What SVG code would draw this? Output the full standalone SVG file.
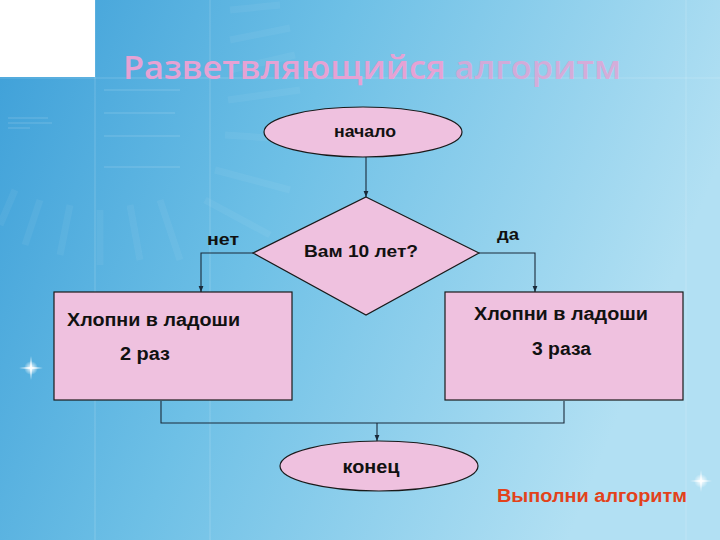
<svg xmlns="http://www.w3.org/2000/svg" width="720" height="540" viewBox="0 0 720 540">
<defs>
<linearGradient id="bg" x1="0" y1="0" x2="1" y2="0.3">
<stop offset="0" stop-color="#3d9fd8"/>
<stop offset="0.45" stop-color="#6ec0e6"/>
<stop offset="1" stop-color="#b2e0f3"/>
</linearGradient>
<radialGradient id="spark" cx="0.5" cy="0.5" r="0.5">
<stop offset="0" stop-color="#ffffff" stop-opacity="1"/>
<stop offset="1" stop-color="#ffffff" stop-opacity="0"/>
</radialGradient>
<marker id="arr" viewBox="0 0 10 10" refX="10" refY="5" markerWidth="6" markerHeight="6" orient="auto" markerUnits="userSpaceOnUse">
<path d="M0,1 L10,5 L0,9 z" fill="#1a2a3a"/>
</marker>
<style>
.shape{fill:#efc1df;stroke:#1a1a1a;stroke-width:1.2}
.lbl{font-family:"Liberation Sans Narrow","Liberation Sans",Arial,sans-serif;font-weight:bold;fill:#111}
.conn{fill:none;stroke:#1a2a3a;stroke-width:1.1}
.deco{stroke:#ffffff;stroke-opacity:0.18;fill:none}
</style>
</defs>
<rect x="0" y="0" width="720" height="540" fill="url(#bg)"/>
<g id="background-deco">
<rect x="0" y="0" width="95" height="77" fill="#ffffff"/>
<line class="deco" x1="95" y1="0" x2="95" y2="540"/>
<line class="deco" x1="210" y1="0" x2="210" y2="540"/>
<line class="deco" x1="0" y1="78" x2="720" y2="78"/>
<line class="deco" x1="686" y1="0" x2="686" y2="540" stroke-opacity="0.25"/>
<g stroke="#ffffff" stroke-opacity="0.05" stroke-width="7">
<line x1="230" y1="10" x2="280" y2="5"/>
<line x1="230" y1="40" x2="290" y2="28"/>
<line x1="230" y1="70" x2="295" y2="55"/>
<line x1="228" y1="100" x2="300" y2="90"/>
<line x1="225" y1="135" x2="300" y2="140"/>
<line x1="215" y1="170" x2="290" y2="190"/>
<line x1="205" y1="200" x2="270" y2="235"/>
<line x1="160" y1="200" x2="180" y2="260"/>
<line x1="130" y1="205" x2="140" y2="260"/>
<line x1="100" y1="210" x2="100" y2="265"/>
<line x1="70" y1="205" x2="60" y2="255"/>
<line x1="40" y1="200" x2="25" y2="245"/>
<line x1="15" y1="190" x2="0" y2="225"/>
</g>
<g stroke="#ffffff" stroke-opacity="0.2" stroke-width="1">
<line x1="8" y1="118" x2="48" y2="118"/>
<line x1="8" y1="123" x2="52" y2="123"/>
<line x1="8" y1="128" x2="30" y2="128"/>
<line x1="104" y1="90" x2="180" y2="90"/>
<line x1="104" y1="113" x2="175" y2="113"/>
<line x1="104" y1="136" x2="180" y2="136"/>
<line x1="104" y1="167" x2="180" y2="167"/>
</g>
<circle cx="31" cy="368" r="7" fill="url(#spark)"/>
<path d="M31,356 L32,367 L43,368 L32,369 L31,380 L30,369 L19,368 L30,367 z" fill="#ffffff" opacity="0.9"/>
<circle cx="701" cy="481" r="7" fill="url(#spark)"/>
<path d="M701,470 L702,480 L712,481 L702,482 L701,492 L700,482 L690,481 L700,480 z" fill="#ffffff" opacity="0.8"/>
</g>
<text x="123" y="79" font-family="'Open Sans','DejaVu Sans',sans-serif" font-weight="600" font-size="33" fill="#e6a2d4" textLength="498" lengthAdjust="spacingAndGlyphs">Разветвляющийся <tspan fill-opacity="0.8">алгоритм</tspan></text>
<g id="connectors">
<line class="conn" x1="366" y1="157" x2="366" y2="197" marker-end="url(#arr)"/>
<polyline class="conn" points="253,253 201,253 201,292" marker-end="url(#arr)"/>
<polyline class="conn" points="479,253 535,253 535,292" marker-end="url(#arr)"/>
<polyline class="conn" points="161,401 161,423 564,423 564,401"/>
<line class="conn" x1="377" y1="423" x2="377" y2="441" marker-end="url(#arr)"/>
</g>
<g id="start">
<ellipse class="shape" cx="363" cy="132" rx="99" ry="25"/>
<text class="lbl" x="365" y="137" font-size="17" text-anchor="middle" textLength="62" lengthAdjust="spacingAndGlyphs">начало</text>
</g>
<g id="decision">
<polygon class="shape" points="366,197 479,253 366,315 253,253"/>
<text class="lbl" x="361" y="257" font-size="17" text-anchor="middle" textLength="114" lengthAdjust="spacingAndGlyphs">Вам 10 лет?</text>
</g>
<g id="label-no">
<text class="lbl" x="223" y="245" font-size="16" text-anchor="middle" textLength="32" lengthAdjust="spacingAndGlyphs">нет</text>
</g>
<g id="label-yes">
<text class="lbl" x="508" y="240" font-size="16" text-anchor="middle" textLength="22" lengthAdjust="spacingAndGlyphs">да</text>
</g>
<g id="clap2">
<rect class="shape" x="54" y="292" width="238" height="108"/>
<text class="lbl" x="67" y="326" font-size="18" textLength="173" lengthAdjust="spacingAndGlyphs">Хлопни в ладоши</text>
<text class="lbl" x="120" y="360" font-size="18" textLength="50" lengthAdjust="spacingAndGlyphs">2 раз</text>
</g>
<g id="clap3">
<rect class="shape" x="445" y="292" width="238" height="108"/>
<text class="lbl" x="474" y="320" font-size="18" textLength="174" lengthAdjust="spacingAndGlyphs">Хлопни в ладоши</text>
<text class="lbl" x="532" y="355" font-size="18" textLength="59" lengthAdjust="spacingAndGlyphs">3 раза</text>
</g>
<g id="end">
<ellipse class="shape" cx="379" cy="466" rx="99" ry="25"/>
<text class="lbl" x="371" y="473" font-size="19" text-anchor="middle" textLength="57" lengthAdjust="spacingAndGlyphs">конец</text>
</g>
<text x="497" y="502" font-family="'Liberation Sans Narrow','Liberation Sans',Arial,sans-serif" font-weight="bold" font-size="18" fill="#e2421b" textLength="190" lengthAdjust="spacingAndGlyphs">Выполни алгоритм</text>
</svg>
